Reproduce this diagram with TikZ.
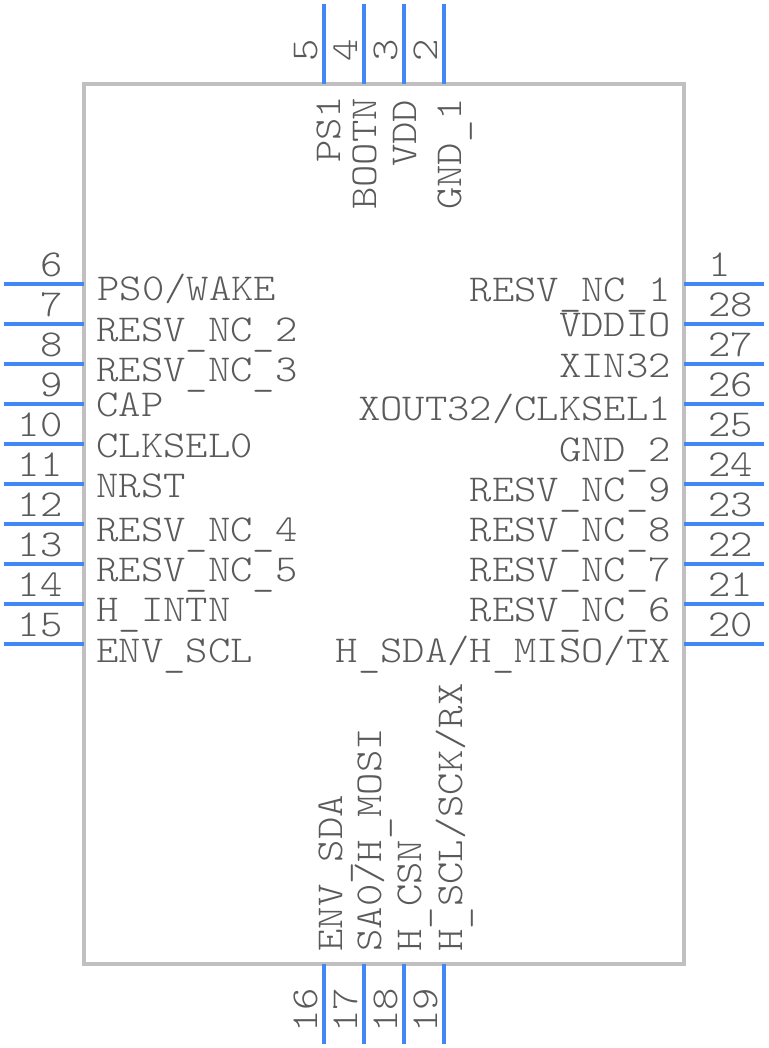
\documentclass[tikz,border=0pt]{standalone}
\usepackage{fontspec}
\setmainfont[FakeStretch=1.12]{Latin Modern Mono Light}
\definecolor{pinblue}{HTML}{4287F5}
\definecolor{bodygray}{HTML}{C0C0C0}
\definecolor{txtgray}{HTML}{5A5A5A}
\newcommand{\us}{\raisebox{-0.1em}{\_}}
\tikzset{
  pinline/.style={draw=pinblue,line width=3pt},
  bodybox/.style={draw=bodygray,line width=3pt},
  txt/.style={inner sep=0pt,outer sep=0pt,text=txtgray,font=\fontsize{28.5pt}{30pt}\selectfont},
  lab/.style={txt,anchor=base west},
  rlab/.style={txt,anchor=base east},
  vlab/.style={txt,anchor=base west,rotate=90},
}
\begin{document}
\begin{tikzpicture}[x=0.75pt,y=-0.75pt]
\useasboundingbox (0,0) rectangle (768,1048);
% body
\draw[bodybox] (84,84) rectangle (684,964);
% top pins
\foreach \n/\x in {5/324,4/364,3/404,2/444}{
  \coordinate (a\n) at (\x,4); \coordinate (b\n) at (\x,84);
  \draw[pinline] (a\n) -- (b\n);
  \node[vlab] (n\n) at (\x-7,61.5) {\n};
}
% bottom pins
\foreach \n/\x in {16/324,17/364,18/404,19/444}{
  \coordinate (a\n) at (\x,1044); \coordinate (b\n) at (\x,964);
  \draw[pinline] (a\n) -- (b\n);
  \node[vlab] (n\n) at (\x-7,1032.5) {\n};
}
% left pins
\foreach \n/\y in {6/284,7/324,8/364,9/404,10/444,11/484,12/524,13/564,14/604,15/644}{
  \coordinate (a\n) at (4,\y); \coordinate (b\n) at (84,\y);
  \draw[pinline] (a\n) -- (b\n);
  \node[rlab] (n\n) at (62.5,\y-7.5) {\n};
}
% right pins
\foreach \n/\y in {1/284,28/324,27/364,26/404,25/444,24/484,23/524,22/564,21/604,20/644}{
  \coordinate (a\n) at (764,\y); \coordinate (b\n) at (684,\y);
  \draw[pinline] (a\n) -- (b\n);
  \node[lab] (n\n) at (708,\y-7.5) {\n};
}
% left labels
\node[lab] (l6) at (97.5,300.5) {PS0/WAKE};
\node[lab] (l7) at (96.5,341.5) {RESV\us NC\us 2};
\node[lab] (l8) at (96.5,381.5) {RESV\us NC\us 3};
\node[lab] (l9) at (96.5,416.5) {CAP};
\node[lab] (l10) at (96.5,457.5) {CLKSEL0};
\node[lab] (l11) at (96.5,497.5) {NRST};
\node[lab] (l12) at (96.5,541.5) {RESV\us NC\us 4};
\node[lab] (l13) at (96.5,581.5) {RESV\us NC\us 5};
\node[lab] (l14) at (96.5,621.5) {H\us INTN};
\node[lab] (l15) at (96.5,662.5) {ENV\us SCL};
% right labels
\node[rlab] (l1) at (671,301.5) {RESV\us NC\us 1};
\node[rlab] (l28) at (671,336.5) {VDDIO};
\node[rlab] (l27) at (671,377.5) {XIN32};
\node[rlab] (l26) at (671,420.5) {XOUT32/CLKSEL1};
\node[rlab] (l25) at (671,461.5) {GND\us 2};
\node[rlab] (l24) at (671,501.5) {RESV\us NC\us 9};
\node[rlab] (l23) at (671,541.5) {RESV\us NC\us 8};
\node[rlab] (l22) at (671,581.5) {RESV\us NC\us 7};
\node[rlab] (l21) at (671,621.5) {RESV\us NC\us 6};
\node[rlab] (l20) at (671,662.5) {H\us SDA/H\us MISO/TX};
% top labels
\node[vlab] (l5) at (340.5,163) {PS1};
\node[vlab] (l4) at (376.5,210) {BOOTN};
\node[vlab] (l3) at (416.5,167) {VDD};
\node[vlab] (l2) at (461.5,210) {GND\us 1};
% bottom labels
\node[vlab] (l16) at (342.5,951.5) {ENV\us SDA};
\node[vlab] (l17) at (381.5,951.5) {SA0/H\us MOSI};
\node[vlab] (l18) at (421.5,951.5) {H\us CSN};
\node[vlab] (l19) at (462.5,951.5) {H\us SCL/SCK/RX};
\end{tikzpicture}
\end{document}
